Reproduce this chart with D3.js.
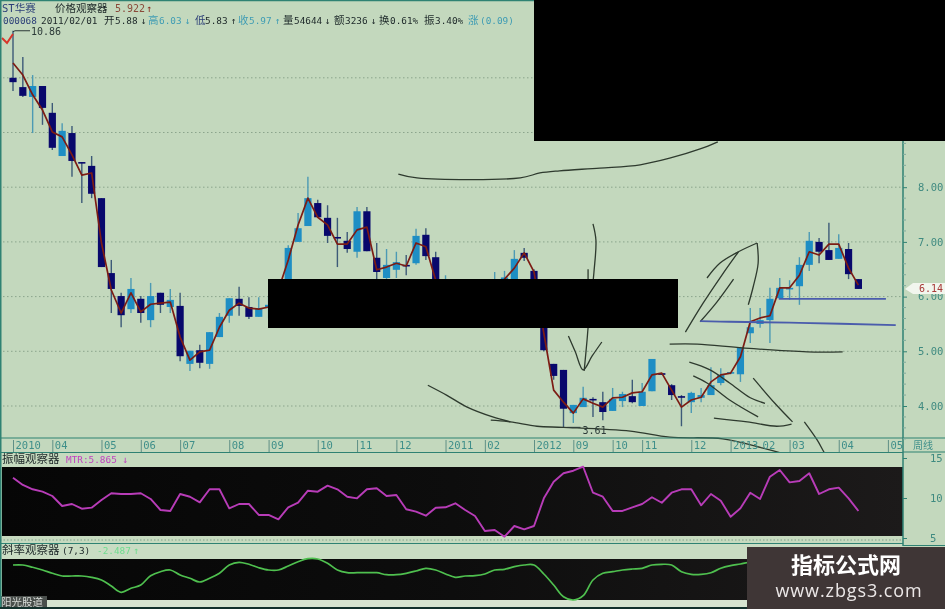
<!DOCTYPE html>
<html><head><meta charset="utf-8">
<script src="https://cdn.jsdelivr.net/npm/d3@7/dist/d3.min.js"></script>
<style>
html,body{margin:0;padding:0;background:#c3d8bd}
svg{display:block}
</style></head><body>
<svg id="c" width="945" height="609" font-family='"DejaVu Sans Mono","Noto Sans CJK SC",monospace'></svg>
<script>
// ---- weekly candles (prices) ----
const open=[10.00,9.83,9.65,9.85,9.36,8.57,8.99,8.46,8.39,7.80,6.43,6.01,5.77,5.96,5.57,6.07,5.81,5.83,4.77,5.02,4.77,5.26,5.65,5.96,5.81,5.63,5.79,5.80,6.12,7.00,7.29,7.71,7.44,7.09,7.02,6.82,7.56,6.71,6.34,6.49,6.58,6.61,7.13,6.72,6.10,6.20,6.00,6.00,6.05,6.10,6.25,6.20,6.80,6.47,6.05,4.77,4.66,3.87,3.98,4.13,4.07,3.91,4.09,4.18,4.00,4.27,4.60,4.38,4.18,4.07,4.15,4.20,4.42,4.60,4.58,5.33,5.50,5.57,5.97,6.14,6.19,6.58,7.00,6.85,6.69,6.87,6.32];
const high=[10.86,10.38,10.05,9.85,9.54,9.17,9.12,8.46,8.57,7.80,6.67,6.07,6.34,6.01,6.25,6.07,6.14,6.07,5.01,5.12,5.35,5.70,5.97,6.18,5.99,5.99,6.00,6.30,6.94,7.53,8.19,7.77,7.67,7.44,7.18,7.64,7.64,6.98,6.87,6.82,6.76,7.24,7.25,6.82,6.39,6.30,6.20,6.15,6.20,6.45,6.47,6.85,6.89,6.50,6.10,4.77,4.66,4.02,4.35,4.16,4.26,4.33,4.26,4.48,4.42,4.86,4.60,4.40,4.20,4.26,4.33,4.71,4.69,4.62,5.08,5.79,5.79,6.16,6.34,6.30,6.72,7.18,7.07,7.35,7.14,6.98,6.32];
const low=[9.76,9.65,8.99,9.14,8.68,8.57,8.19,7.71,7.80,6.54,5.70,5.44,5.70,5.52,5.44,5.70,5.70,4.82,4.64,4.69,4.68,5.26,5.52,5.65,5.59,5.63,5.60,5.70,6.05,7.00,7.29,7.45,6.98,6.54,6.80,6.71,6.83,6.30,6.21,6.34,6.39,6.58,6.67,6.05,5.95,5.90,5.85,5.80,5.90,5.95,6.10,6.10,6.65,6.10,5.00,4.48,3.61,3.69,3.98,3.80,3.74,3.91,3.98,4.05,4.00,4.27,4.57,4.11,3.63,3.87,4.07,4.20,4.38,4.58,4.44,5.15,5.43,5.15,5.97,5.94,5.85,6.47,6.61,6.67,6.69,6.32,6.14];
const close=[9.92,9.67,9.85,9.45,8.72,9.03,8.48,8.44,7.88,6.54,6.14,5.66,6.14,5.70,6.01,5.85,5.94,4.91,5.01,4.79,5.35,5.63,5.97,5.83,5.63,5.79,5.85,6.20,6.89,7.25,7.80,7.45,7.11,7.07,6.87,7.56,6.83,6.45,6.58,6.63,6.56,7.11,6.74,6.12,6.25,6.00,6.05,6.10,6.10,6.25,6.35,6.69,6.71,6.25,5.02,4.55,3.95,4.02,4.15,4.11,3.89,4.13,4.22,4.07,4.26,4.86,4.57,4.20,4.16,4.24,4.20,4.38,4.57,4.62,5.06,5.44,5.57,5.96,6.16,6.16,6.58,7.02,6.82,6.67,6.89,6.41,6.14];
const avg=[10.27,10.05,9.69,9.41,9.01,8.92,8.59,8.22,8.26,6.98,6.12,5.70,6.07,5.72,5.86,5.88,5.90,5.26,4.84,4.99,5.02,5.44,5.75,5.88,5.79,5.77,5.81,6.12,6.67,7.31,7.80,7.45,7.31,6.96,6.96,7.22,7.27,6.49,6.54,6.61,6.56,6.98,6.91,6.30,6.10,6.00,5.95,5.95,6.00,6.15,6.32,6.52,6.80,6.45,5.33,4.29,4.07,3.87,4.13,4.05,3.98,4.15,4.16,4.24,4.26,4.57,4.60,4.29,3.98,4.11,4.16,4.44,4.57,4.60,4.90,5.54,5.61,5.65,6.16,6.16,6.39,6.82,6.76,6.96,6.96,6.52,6.21];
const mtr=[12.54,11.63,11.09,10.79,10.25,9.0,9.25,8.66,8.79,9.75,10.59,10.5,10.5,10.59,9.88,8.5,8.38,10.5,10.16,9.46,11.09,11.09,8.71,9.25,9.25,7.88,7.88,7.34,8.84,9.41,10.91,10.79,11.54,11.09,10.16,9.96,11.09,11.21,10.25,10.38,8.59,8.29,7.79,8.79,8.84,9.34,8.5,7.75,5.88,6.0,5.16,6.5,6.09,6.5,9.96,12.04,13.09,13.41,13.91,10.66,10.16,8.38,8.38,8.84,9.25,10.09,9.41,10.66,11.09,11.09,9.09,10.5,9.66,7.66,8.71,10.66,9.88,12.66,13.5,11.96,12.13,13.09,10.5,11.09,11.29,9.96,8.38];
const slope=[3.0,3.0,2.54,2.0,1.34,0.8,0.8,0.8,0.54,0,-1.2,-2.46,-1.66,-1.0,0.86,1.66,2.0,1.0,0.34,-0.4,0.34,1.34,3.0,3.54,3.14,2.46,2,2,2.8,3.66,4.26,4.2,3.34,2,1.46,1.46,1.46,1.46,1.06,1.06,1.34,1.8,2.34,2,1.2,0.54,0.8,0.86,1.2,2,2.14,2.66,3,3,1.2,-1,-3.34,-4,-3.14,0,1.34,1.66,2,2.2,2.34,3,3.14,3,1.66,1.14,1.14,1.46,2.34,2.86,3.2,3.6,3.8,3.9,3.4,3.0,2.8,3.0,2.6,2.0,1.2,0.6,-0.2];
// ---- axes ----
const dateWeeks=[0,4,9,13,17,22,26,31,35,39,44,48,53,57,61,64,69,73,76,79,84,89];
const dateLabels=["2010","04","05","06","07","08","09","10","11","12","2011","02","2012","09","10","11","12","2013","02","03","04","05"];
const priceTicks=[4,5,6,7,8];
const gridPrices=[4,5,6,7,8,9,10];
const minorPrices=[3.4,3.6,3.8,4.2,4.4,4.6,4.8,5.2,5.4,5.6,5.8,6.2,6.4,6.6,6.8,7.2,7.4,7.6,7.8,8.2,8.4,8.6,8.8];
const mtrTicks=[5,10,15];
// ---- hand-drawn pen strokes over the chart: [week, price] ----
const penInk=[
 [[39.2,8.24],[41.1,8.17],[51.6,8.17],[53.6,8.26],[55.6,8.30],[59.7,8.35],[63.8,8.41],[66.8,8.53],[69.9,8.70],[71.7,8.83]],
 [[59.0,7.33],[59.3,7.03],[59.1,6.45],[58.5,5.43],[58.4,5.21],[58.1,4.64]],
 [[58.5,6.50],[58.5,6.30]],
 [[56.5,5.28],[57.2,4.99],[58.0,4.66],[58.9,4.91],[59.9,5.17]],
 [[68.4,5.35],[70.2,5.88],[72.1,6.39],[73.8,6.82]],
 [[70.6,6.34],[71.9,6.61],[73.8,6.82],[75.7,6.98]],
 [[75.7,6.98],[75.8,6.61],[75.3,6.18],[74.8,5.85]],
 [[69.9,5.54],[71.6,5.90],[73.3,6.32]],
 [[66.8,5.13],[69.6,5.13],[74.3,5.06],[80.8,4.99],[84.4,4.99]],
 [[68.8,4.80],[70.9,4.66],[72.9,4.42],[75.0,4.15],[76.5,4.05]],
 [[69.2,4.55],[70.6,4.42],[72.9,4.11],[75.8,3.80]],
 [[71.3,3.78],[74.7,3.71],[77.7,3.63],[79.2,3.67]],
 [[79.3,3.71],[77.5,4.05],[75.3,4.51]],
 [[80.5,3.71],[81.8,3.38],[82.8,3.07],[83.8,2.87]],
 [[42.2,4.38],[44.1,4.20],[46.2,3.98],[48.8,3.80],[50.6,3.71]],
 [[48.6,3.74],[50.6,3.71],[53.3,3.63],[56.0,3.61],[62.8,3.54],[66.8,3.43],[72.2,3.40],[76.3,3.23],[79.8,3.05],[82.4,2.88]]
];
const penBlue=[
 [[69.9,5.55],[72.9,5.54],[80,5.52],[89.8,5.48]],
 [[77.9,5.96],[88.8,5.96]]
];
const teal="#2f8273", bg="#c3d8bd";
const svg=d3.select("#c");
const defs=svg.append("defs");
const gr=defs.append("linearGradient").attr("id","pg").attr("color-interpolation","sRGB");
gr.append("stop").attr("offset",0).attr("stop-color","#060606");
gr.append("stop").attr("offset",0.5).attr("stop-color","#0d0d0d");
gr.append("stop").attr("offset",1).attr("stop-color","#1c1a1a");
defs.append("filter").attr("id","soft").attr("x",0).attr("y",0).attr("width",1).attr("height",1)
  .attr("color-interpolation-filters","sRGB")
  .append("feGaussianBlur").attr("stdDeviation",0.45);

const g=svg.append("g").attr("filter","url(#soft)");
g.append("rect").attr("width",945).attr("height",609).attr("fill",bg);

const x=d3.scaleLinear().domain([0,86]).range([13,858.4]);
const y=d3.scaleLinear().domain([4,10]).range([406,77.8]);
const yM=d3.scaleLinear().domain([5,15]).range([538,458]);
const yS=d3.scaleLinear().domain([0,4]).range([580,560]);

// grid
g.append("g").selectAll("line").data(gridPrices).join("line")
 .attr("x1",3).attr("x2",903).attr("y1",d=>y(d)).attr("y2",d=>y(d))
 .attr("stroke","#8ba58c").attr("stroke-width",1).attr("stroke-dasharray","1.5 2.5");

// candles
const idx=d3.range(open.length);
const UP="#1e8ec4", DOWN="#08086c";
g.append("g").selectAll("line").data(idx).join("line")
 .attr("x1",i=>x(i)).attr("x2",i=>x(i)).attr("y1",i=>y(high[i])).attr("y2",i=>y(low[i]))
 .attr("stroke",i=>close[i]>=open[i]?"#4c9ab4":"#3d5a78").attr("stroke-width",1.4);
g.append("g").selectAll("rect").data(idx).join("rect")
 .attr("x",i=>x(i)-3.6).attr("width",7.2)
 .attr("y",i=>y(Math.max(open[i],close[i])))
 .attr("height",i=>Math.max(1.6,Math.abs(y(open[i])-y(close[i]))))
 .attr("fill",i=>close[i]>=open[i]?UP:DOWN);

// moving average
g.append("path").attr("d",d3.line().x((d,i)=>x(i)).y(d=>y(d))(avg))
 .attr("fill","none").attr("stroke","#7c1c14").attr("stroke-width",1.7).attr("stroke-linejoin","round");

// pen strokes
const pen=d3.line().x(d=>x(d[0])).y(d=>y(d[1])).curve(d3.curveCatmullRom);
g.append("g").selectAll("path").data(penInk).join("path").attr("d",pen)
 .attr("fill","none").attr("stroke","#2e3a2e").attr("stroke-width",1.3);
g.append("g").selectAll("path").data(penBlue).join("path").attr("d",pen)
 .attr("fill","none").attr("stroke","#4a5cac").attr("stroke-width",1.8);

// extreme labels
const ink="#2c3a38";
g.append("path").attr("d",`M${x(0)},${y(10.86)+1}L${x(0)+2},${y(10.86)}H${x(0)+17}`).attr("fill","none").attr("stroke",ink).attr("stroke-width",1);
g.append("text").attr("x",x(0)+18).attr("y",y(10.86)+4).attr("font-size",10).attr("fill",ink).text("10.86");
g.append("path").attr("d",`M${x(56)+4},${y(3.61)}H${x(56)+17}`).attr("fill","none").attr("stroke",ink);
g.append("text").attr("x",x(56)+19).attr("y",y(3.61)+7).attr("font-size",10).attr("fill",ink).text("3.61");
g.append("path").attr("d","M2,38L7,43L13,34").attr("fill","none").attr("stroke","#d8352a").attr("stroke-width",2);

// lower panels
const panelStrip=(yy,h,c)=>g.append("rect").attr("x",0).attr("y",yy).attr("width",903).attr("height",h).attr("fill",c);
panelStrip(452,15,"#c6dabf");
panelStrip(536,7,"#c6dabf");
panelStrip(544,15,"#c9dcc3");
panelStrip(600,7,"#d6e3d0");
g.append("rect").attr("x",2).attr("y",467).attr("width",901).attr("height",69).attr("fill","url(#pg)");
g.append("rect").attr("x",2).attr("y",559).attr("width",901).attr("height",41).attr("fill","url(#pg)");
g.append("line").attr("x1",0).attr("x2",903).attr("y1",540).attr("y2",540).attr("stroke","#7fa08c").attr("stroke-dasharray","1.5 2");
g.append("line").attr("x1",0).attr("x2",903).attr("y1",543.5).attr("y2",543.5).attr("stroke",teal).attr("stroke-width",1.2);

g.append("path").attr("d",d3.line().x((d,i)=>x(i)).y(d=>yM(d))(mtr))
 .attr("fill","none").attr("stroke","#b83cb8").attr("stroke-width",1.9).attr("stroke-linejoin","round");
g.append("path").attr("d",d3.line().x((d,i)=>x(i)).y(d=>yS(d)).curve(d3.curveCatmullRom)(slope))
 .attr("fill","none").attr("stroke","#4fc04f").attr("stroke-width",1.7);

// date axis
const da=g.append("g").attr("transform","translate(0,452)")
 .call(d3.axisTop(x).tickValues(dateWeeks).tickFormat((d,i)=>dateLabels[i]).tickSize(12).tickSizeOuter(0));
da.attr("font-family",null).attr("font-size",null);
da.select(".domain").attr("stroke",teal).attr("stroke-width",1.2).attr("d","M0,0.5H903");
da.selectAll(".tick line").attr("stroke",d=>d===76?"none":"#5f8f86").attr("stroke-width",1);
da.selectAll(".tick text").attr("text-anchor","start").attr("x",2).attr("y",-3).attr("dy",0).attr("font-size",10.5)
 .attr("font-family",'"DejaVu Sans Mono"').attr("fill","#3f8f8a");
g.append("line").attr("x1",0).attr("x2",945).attr("y1",438).attr("y2",438).attr("stroke",teal).attr("stroke-width",1.2);
g.append("line").attr("x1",903).attr("x2",945).attr("y1",452).attr("y2",452).attr("stroke",teal).attr("stroke-width",1.2);
g.append("line").attr("x1",903).attr("x2",945).attr("y1",545.5).attr("y2",545.5).attr("stroke",teal).attr("stroke-width",1.2);
g.append("text").attr("x",913).attr("y",449).attr("font-size",10).attr("fill","#3f8f8a").attr("font-family",'"Noto Sans CJK SC"').text("周线");

// price axis (right)
const pa=g.append("g").attr("transform","translate(903,0)")
 .call(d3.axisRight(y).tickValues(priceTicks).tickFormat(d3.format(".2f")).tickSize(4).tickPadding(11));
pa.select(".domain").attr("stroke",teal).attr("stroke-width",1.5).attr("d","M0,141V546");
pa.selectAll(".tick line").attr("stroke",teal);
pa.selectAll(".tick text").attr("font-size",10.5).attr("font-family",'"DejaVu Sans Mono"').attr("fill","#3f8a80");
g.append("g").selectAll("line").data(minorPrices).join("line")
 .attr("x1",903).attr("x2",906).attr("y1",d=>y(d)).attr("y2",d=>y(d)).attr("stroke","#7fab9c");

// amplitude axis
const ma=g.append("g").attr("transform","translate(903,0)")
 .call(d3.axisRight(yM).tickValues(mtrTicks).tickFormat(d3.format("d")).tickSize(4).tickPadding(23));
ma.select(".domain").remove();
ma.selectAll(".tick line").attr("stroke",teal);
ma.selectAll(".tick text").attr("font-size",10.5).attr("font-family",'"DejaVu Sans Mono"').attr("fill","#3f8a80");

// last price badge
g.append("path").attr("d",`M905,${y(6.14)}L913,${y(6.14)-6}H945V${y(6.14)+5}H913Z`).attr("fill","#f2f6ee");
g.append("text").attr("x",919).attr("y",y(6.14)+3.5).attr("font-size",10).attr("fill","#a83a38")
 .attr("font-family",'"DejaVu Sans Mono"').text(d3.format(".2f")(close[close.length-1]));

// headers
const hdr=(xx,yy,t,c,fs,ffam)=>g.append("text").attr("x",xx).attr("y",yy).attr("fill",c).attr("font-size",fs||10)
  .attr("font-family",ffam||'"DejaVu Sans Mono","Noto Sans CJK SC"').text(t);
const dk="#1c2728", tl="#3f9cb4", nv="#2c3f78";
hdr(2,11.5,"ST华赛",nv,10.5);
hdr(55,11.5,"价格观察器",dk,10.5,'"Noto Sans CJK SC"');
hdr(115,11.5,"5.922","#8a4a3a",10);
hdr(146,11.5,"↑","#8a2a20",10);
hdr(3,24,"000068",nv,9.4);
hdr(41,24,"2011/02/01",dk,9.4);
const row=[[104,"开",dk],[115,"5.88",dk],[141,"↓",dk],[148,"高",tl],[159,"6.03",tl],[185,"↓",tl],[195,"低",nv],[205,"5.83",dk],[231,"↑",dk],[238,"收",tl],[249,"5.97",tl],[275,"↑",tl],[283,"量",dk],[294,"54644",dk],[325,"↓",dk],[334,"额",dk],[345,"3236",dk],[371,"↓",dk],[379,"换",dk],[390,"0.61%",dk],[424,"振",dk],[435,"3.40%",dk],[468,"涨",tl],[480,"(0.09)",tl]];
row.forEach(r=>hdr(r[0],24,r[1],r[2],/[\u4e00-\u9fff]/.test(r[1])?10.5:9.4));
hdr(2,463,"振幅观察器",dk,11.5,'"Noto Sans CJK SC"');
hdr(66,463,"MTR:5.865","#c040c0",9.4);
hdr(122,463,"↓","#c040c0",10);
hdr(2,554,"斜率观察器",dk,11.5,'"Noto Sans CJK SC"');
hdr(62,554,"(7,3)",dk,9.4);
hdr(97,554,"-2.487","#6fdc8f",9.4);
hdr(133,554,"↑","#6fdc8f",10);
g.append("rect").attr("x",0).attr("y",596).attr("width",47).attr("height",13).attr("fill","#4a4f4c");
hdr(1,606,"阳光股道","#d8dcd8",10.5,'"Noto Sans CJK SC"');

// frame
g.append("line").attr("x1",0.5).attr("x2",0.5).attr("y1",0).attr("y2",609).attr("stroke",teal).attr("stroke-width",2);
g.append("line").attr("x1",0).attr("x2",534).attr("y1",0.5).attr("y2",0.5).attr("stroke",teal).attr("stroke-width",1.5);
g.append("line").attr("x1",0).attr("x2",945).attr("y1",608).attr("y2",608).attr("stroke","#12302c").attr("stroke-width",2);

// redactions & watermark (sit on top of everything)
svg.append("rect").attr("x",534).attr("y",0).attr("width",411).attr("height",141).attr("fill","#000");
svg.append("rect").attr("x",268).attr("y",279).attr("width",410).attr("height",49).attr("fill","#000");
svg.append("rect").attr("x",747).attr("y",547).attr("width",198).attr("height",62).attr("fill","#3f3636");
svg.append("text").attr("x",846).attr("y",573).attr("text-anchor","middle").attr("fill","#fff").attr("font-size",22).attr("font-weight",700)
 .attr("font-family",'"Noto Sans CJK SC"').text("指标公式网");
svg.append("text").attr("x",849).attr("y",597).attr("text-anchor","middle").attr("fill","#ece8e8").attr("font-size",18).attr("letter-spacing",0.9)
 .attr("font-family",'"Open Sans"').text("www.zbgs3.com");
</script>
</body></html>
